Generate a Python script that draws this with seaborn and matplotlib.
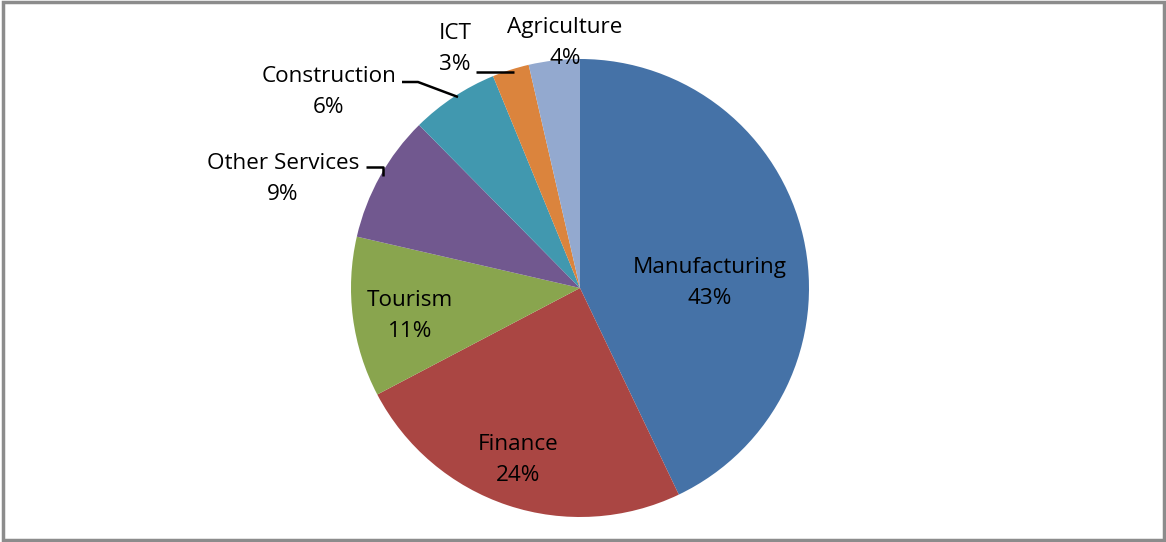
import matplotlib
matplotlib.use("Agg")
import matplotlib.pyplot as plt
import seaborn as sns
from matplotlib.patches import Rectangle

sns.set_theme(style="white")
plt.rcParams['font.family'] = ['Open Sans', 'DejaVu Sans']

sectors = ["Manufacturing", "Finance", "Tourism", "Other Services",
           "Construction", "ICT", "Agriculture"]
shares = [42.9, 24.4, 11.3, 9.0, 6.2, 2.6, 3.6]
colors = ["#4572A7", "#AA4643", "#89A54E", "#71588F", "#4198AF", "#DB843D", "#93A9CF"]

W, H = 1166, 542
fig = plt.figure(figsize=(W / 100, H / 100), dpi=100)
ax = fig.add_axes([0, 0, 1, 1])

cx, cy, R = 580, 288, 229
wedges, _ = ax.pie(shares, colors=colors, startangle=-90, counterclock=True,
                   center=(cx, cy), radius=R, frame=True,
                   wedgeprops=dict(linewidth=0))
ax.set_xlim(0, W)
ax.set_ylim(H, 0)
ax.set_aspect("equal")
ax.axis("off")

# label layout (text block centres in pixels)
label_pos = {
    "Manufacturing": (710, 283),
    "Finance": (518, 460),
    "Tourism": (410, 316),
    "Other Services": (283, 179),
    "Construction": (329, 92),
    "ICT": (455, 49),
    "Agriculture": (565, 43),
}
for name, val in zip(sectors, shares):
    x, y = label_pos[name]
    ax.text(x, y, f"{name}\n{val:.0f}%", ha="center", va="center",
            fontsize=16.2, color="black", linespacing=1.62)

# leader lines
leaders = [
    [(366, 167), (383, 167), (383, 176)],
    [(402, 82), (418, 82), (458, 97)],
    [(476, 72), (514, 72)],
]
for pts in leaders:
    xs, ys = zip(*pts)
    ax.plot(xs, ys, color="black", linewidth=1.8, solid_capstyle="butt")

# outer border
fig.patches.append(Rectangle((0.003, 0.004), 0.995, 0.993, transform=fig.transFigure,
                             fill=False, edgecolor="#8c8c8c", linewidth=2.5))

fig.savefig("out.png", dpi=100)
